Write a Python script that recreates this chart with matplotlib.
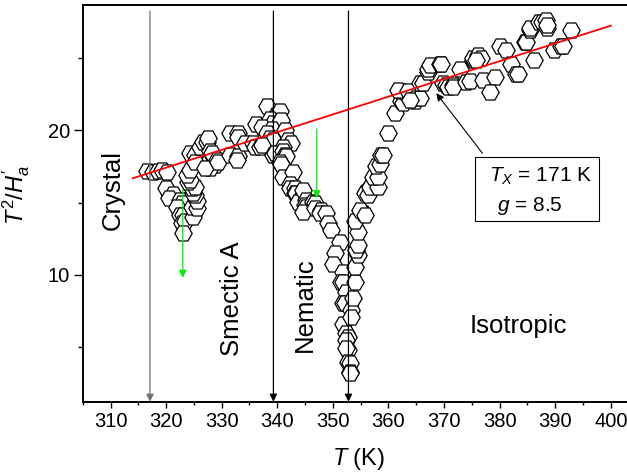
import matplotlib
matplotlib.use("Agg")
import matplotlib.pyplot as plt
from matplotlib.ticker import MultipleLocator
from matplotlib.patches import Rectangle

plt.rcParams['font.family'] = ['Liberation Sans', 'DejaVu Sans']
plt.rcParams['mathtext.fontset'] = 'custom'
plt.rcParams['mathtext.rm'] = 'Liberation Sans'
plt.rcParams['mathtext.it'] = 'Liberation Sans:italic'

# measured points (T in K, T^2/H'_a)
T = [316.5, 317.7, 318.5, 319.2, 320.1, 320.0, 321.2, 320.6, 322.5, 322.8,
     321.9, 322.5, 323.1, 322.8, 323.4, 323.1, 324.9, 324.6, 325.5, 325.5,
     325.2, 324.9, 324.6, 325.2, 324.0, 324.3, 323.7, 324.3, 324.3, 325.2,
     325.2, 326.1, 326.7, 327.3, 327.6, 327.9, 328.2, 328.8, 327.9, 327.0,
     329.1, 329.4, 331.5, 333.0, 333.0, 331.5, 333.0, 332.7, 334.2, 335.6,
     336.2, 336.0, 336.8,
     338.1, 339.8, 340.4, 338.6, 339.2, 340.7, 337.2, 339.0, 341.3, 338.1,
     338.6, 339.2, 337.2, 341.9, 342.5, 341.0, 339.2, 339.5, 341.0, 341.3,
     341.6, 340.4, 340.7, 341.0, 342.8, 342.2, 342.2, 343.1, 343.1, 343.4,
     344.3, 344.0, 343.7, 344.6, 345.2, 344.9, 345.2, 344.6, 346.4, 346.7,
     346.7, 347.9, 347.6, 348.8, 349.1, 349.7, 351.2, 350.3, 350.0, 351.8,
     351.5, 351.8, 352.4, 351.8, 352.1, 353.3, 351.8, 352.4, 352.7, 352.4,
     352.7, 352.4, 352.7, 353.0, 353.0, 353.0,
     353.3, 353.6, 353.9, 353.9, 354.5, 354.2, 354.5, 354.5, 353.9, 355.4,
     354.8, 355.7, 356.0, 355.7, 356.3, 356.9, 356.6, 358.1, 357.2, 358.1,
     357.8, 358.4, 358.7, 359.0, 359.9, 361.1, 362.3, 362.6, 362.3, 362.9,
     361.7, 363.5, 364.4, 364.7, 365.0, 365.6, 363.8, 365.6, 366.2, 367.1,
     367.1, 367.4, 369.2, 369.5, 369.8, 370.4, 370.7, 371.6, 371.6, 372.8,
     374.0, 374.6, 375.2, 375.2, 376.1, 376.7, 375.8, 377.0, 379.1, 378.2,
     380.0, 381.2, 382.1, 383.0, 383.3, 384.5, 384.8, 385.4, 385.4, 387.1,
     387.7, 388.3, 388.6, 388.6, 386.2, 389.8, 391.0, 391.3, 392.8]
Y = [17.2, 17.14, 17.2, 17.26, 17.14, 16.0, 15.6, 15.3, 15.2, 14.95,
     14.7, 14.15, 14.15, 13.6, 13.7, 12.9, 14.0, 14.7, 14.6, 15.1,
     15.5, 15.65, 16.0, 16.1, 16.45, 16.56, 16.9, 17.26, 18.4, 18.3,
     17.8, 18.87, 19.2, 19.2, 19.45, 18.6, 18.4, 17.6, 17.4, 17.4,
     17.95, 17.8, 19.8, 19.8, 19.56, 18.3, 18.2, 17.95, 19.1, 19.1,
     20.4, 18.87, 18.87,
     21.65, 21.06, 21.3, 20.8, 20.5, 20.7, 20.25, 20.1, 20.0, 19.8,
     19.45, 19.33, 19.0, 19.3, 19.1, 18.87, 18.3, 18.4, 18.6, 18.3,
     18.2, 17.8, 17.7, 16.8, 17.1, 16.3, 16.0, 16.0, 15.65, 15.65,
     15.3, 15.2, 15.07, 15.9, 15.2, 14.84, 14.7, 14.37, 15.07, 14.95,
     14.6, 14.5, 14.26, 14.26, 13.57, 13.1, 12.3, 11.5, 10.75, 10.2,
     9.54, 9.54, 8.85, 8.04, 8.04, 7.58, 6.6, 5.97, 5.74, 5.5,
     4.8, 4.93, 4.0, 3.9, 3.3, 3.2,
     7.1, 8.4, 9.54, 10.57, 11.4, 11.7, 12.1, 13.0, 13.7, 14.26,
     14.5, 14.15, 15.76, 15.65, 15.5, 16.2, 16.1, 16.1, 16.8, 16.8,
     17.5, 17.7, 18.3, 18.3, 19.8, 21.2, 22.0, 21.9, 22.7, 22.67,
     22.8, 22.7, 22.1, 22.0, 22.2, 22.2, 22.1, 23.25, 23.25, 24.05,
     24.2, 24.5, 24.6, 24.6, 23.25, 23.1, 23.0, 23.1, 23.0, 24.2,
     23.36, 23.4, 24.86, 25.0, 25.2, 24.97, 24.86, 23.5, 23.7, 22.67,
     25.8, 25.55, 24.6, 23.9, 23.9, 26.1, 26.1, 26.9, 27.05, 27.5,
     27.5, 27.6, 27.05, 27.3, 24.86, 25.55, 25.8, 25.8, 26.9]

# linear fit line
fit_T = [314.0, 400.0]
fit_Y = [16.68, 27.23]

# phase transition markers
trans_T = [317.1, 339.3, 352.8]
trans_col = ['#707070', 'black', 'black']
green_T = [323.0, 347.1]
green_top = [15.87, 20.1]
green_bot = [9.8, 15.3]

phases = ['Crystal', 'Smectic A', 'Nematic', 'Isotropic']
phase_T = [310.4, 331.8, 345.0, 383.4]
phase_Y = [15.9, 8.35, 7.95, 6.45]
phase_rot = [90, 90, 90, 0]

ymin, ymax = 1.24, 28.68

fig = plt.figure(figsize=(6.27, 4.72), dpi=100)
ax = fig.add_axes([0.1319, 0.1489, 0.8681, 0.8412])

ax.plot(T, Y, ls='none', marker='H', ms=12.5, mfc='white', mec='black',
        mew=0.9, zorder=2)

for t, c in zip(trans_T, trans_col):
    ax.annotate('', xy=(t, ymin), xytext=(t, 28.24),
                arrowprops=dict(arrowstyle='-|>', color=c, lw=0.9,
                                mutation_scale=11, shrinkA=0, shrinkB=0),
                zorder=3)

ax.plot(fit_T, fit_Y, color='#ff0000', lw=1.3, zorder=4)

for t, y0, y1 in zip(green_T, green_top, green_bot):
    ax.annotate('', xy=(t, y1), xytext=(t, y0),
                arrowprops=dict(arrowstyle='-|>', color='#00ee00', lw=0.9,
                                mutation_scale=11, shrinkA=0, shrinkB=0),
                zorder=5)

for name, x, y, r in zip(phases, phase_T, phase_Y, phase_rot):
    ax.text(x, y, name, rotation=r, ha='center', va='center', fontsize=18.5)

# fit result box
ax.add_patch(Rectangle((375.6, 13.73), 22.3, 4.4, fc='white', ec='black',
                       lw=0.8, zorder=5))
ax.text(378.0, 16.45, r'$T_X$ = 171 K', fontsize=15, va='baseline', zorder=6)
ax.text(379.5, 14.45, r'$g$ = 8.5', fontsize=15, va='baseline', zorder=6)
ax.annotate('', xy=(368.6, 22.56), xytext=(376.9, 18.41),
            arrowprops=dict(arrowstyle='-|>', color='black', lw=0.8,
                            mutation_scale=11, shrinkA=0, shrinkB=0))

ax.set_xlim(305, 402.9)
ax.set_ylim(ymin, ymax)
ax.xaxis.set_major_locator(MultipleLocator(10))
ax.xaxis.set_minor_locator(MultipleLocator(5))
ax.yaxis.set_major_locator(MultipleLocator(10))
ax.yaxis.set_minor_locator(MultipleLocator(5))
ax.tick_params(axis='x', which='major', length=4.5, width=1, labelsize=14.5, pad=3)
ax.tick_params(axis='x', which='minor', length=2.5, width=1)
ax.tick_params(axis='y', which='major', length=6.3, width=1, labelsize=14.5, pad=3)
ax.tick_params(axis='y', which='minor', length=3.6, width=1)
ax.spines['right'].set_visible(False)
for s in ['left', 'bottom', 'top']:
    ax.spines[s].set_linewidth(1.4)

ax.set_xlabel(r'$T$ (K)', fontsize=17)
ax.xaxis.set_label_coords(0.506, -0.112)
ax.set_ylabel(r"$T^2/H^{\prime}_a$", fontsize=17)
ax.yaxis.set_label_coords(-0.093, 0.52)

fig.savefig('out.png', dpi=100)
